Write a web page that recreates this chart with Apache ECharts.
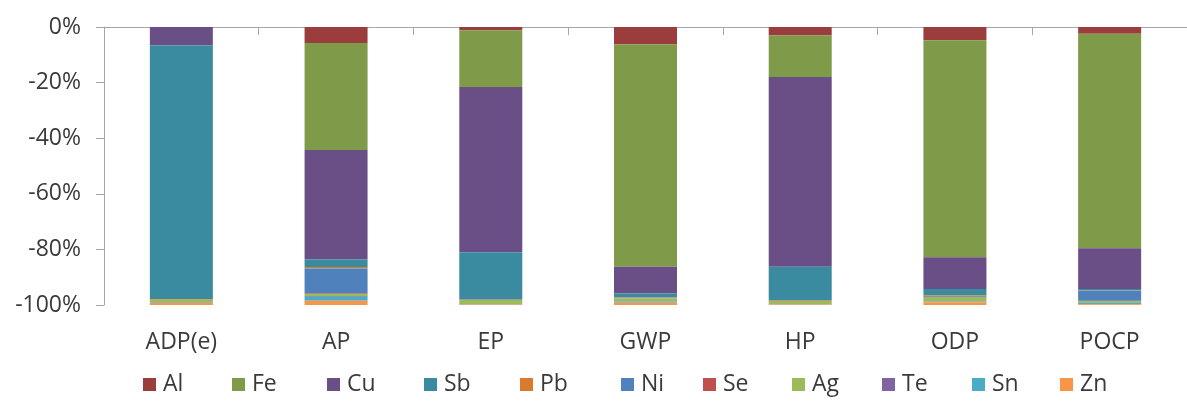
<!DOCTYPE html>
<html>
<head>
<meta charset="utf-8">
<script src="https://cdn.jsdelivr.net/npm/echarts@6/dist/echarts.min.js"></script>
<style>
html,body{margin:0;padding:0;background:#fff;}
#chart{width:1187px;height:405px;}
</style>
</head>
<body>
<div id="chart"></div>
<script>
var categories = ['ADP(e)', 'AP', 'EP', 'GWP', 'HP', 'ODP', 'POCP'];
var yTicks = [-100, -80, -60, -40, -20, 0];

var Al = [0, -5.8, -1.2, -6.2, -3.0, -4.8, -2.4];
var Fe = [0, -38.4, -20.4, -80.0, -15.0, -78.0, -77.2];
var Cu = [-6.6, -39.3, -59.4, -9.6, -68.2, -11.4, -14.6];
var Sb = [-91.2, -2.8, -16.8, -1.4, -12.0, -2.4, -0.6];
var Pb = [-0.3, -0.6, -0.1, -0.2, -0.2, -0.2, -0.1];
var Ni = [0, -9.0, -0.2, -0.2, -0.1, -0.2, -3.6];
var Se = [0, -0.1, -0.1, -0.1, -0.1, -0.1, -0.1];
var Ag = [-0.8, -0.8, -1.4, -1.0, -1.0, -1.6, -0.6];
var Te = [0, -0.2, -0.1, -0.1, -0.1, -0.1, -0.1];
var Sn = [-0.3, -1.5, -0.1, -0.4, -0.1, -0.2, -0.4];
var Zn = [-0.8, -1.5, -0.2, -0.8, -0.2, -1.0, -0.3];

var seriesNames = ['Al', 'Fe', 'Cu', 'Sb', 'Pb', 'Ni', 'Se', 'Ag', 'Te', 'Sn', 'Zn'];
var seriesData = [Al, Fe, Cu, Sb, Pb, Ni, Se, Ag, Te, Sn, Zn];
var colors = ['#9B3D3C', '#7F9A48', '#6A4F86', '#3B8BA0', '#D97B2E', '#4F81BD', '#C0504D', '#9BBB59', '#8064A2', '#4BACC6', '#F79646'];

// legend entry left edges (layout)
var legendLeft = [143, 232, 327, 424, 520, 621, 703, 792, 882, 972, 1060];

var FONT = 'Open Sans';
var TXT = '#3a3a3a';
var AX = '#A6A6A6';
var FS = 23;

var series = seriesNames.map(function (n, i) {
  return {
    name: n,
    type: 'bar',
    stack: 'total',
    xAxisIndex: 0,
    barWidth: 63,
    data: seriesData[i],
    itemStyle: { color: colors[i] },
    emphasis: { disabled: true }
  };
});

var legends = seriesNames.map(function (n, i) {
  return {
    data: [n],
    left: legendLeft[i],
    top: 373,
    icon: 'rect',
    itemWidth: 13,
    itemHeight: 13,
    padding: 0,
    textStyle: { color: TXT, fontFamily: FONT, fontSize: FS, padding: [0, 0, 0, 2] },
    selectedMode: false
  };
});

var chart = echarts.init(document.getElementById('chart'), null, { renderer: 'canvas' });
chart.setOption({
  animation: false,
  color: colors,
  textStyle: { fontFamily: FONT },
  grid: { left: 104, top: 27, width: 1092, height: 278, containLabel: false },
  xAxis: [
    {
      type: 'category',
      data: categories,
      position: 'top',
      boundaryGap: true,
      axisLine: { show: true, onZero: false, lineStyle: { color: AX, width: 1 } },
      axisTick: { show: true, inside: true, length: 8, lineStyle: { color: AX } },
      axisLabel: { show: false },
      splitLine: { show: false }
    },
    {
      type: 'category',
      data: categories,
      position: 'bottom',
      boundaryGap: true,
      axisLine: { show: false },
      axisTick: { show: false },
      axisLabel: { show: true, color: TXT, fontFamily: FONT, fontSize: FS, margin: 26 },
      splitLine: { show: false }
    }
  ],
  yAxis: {
    type: 'value',
    min: -100,
    max: 0,
    interval: 20,
    axisLine: { show: true, lineStyle: { color: AX, width: 1 } },
    axisTick: { show: true, length: 8, lineStyle: { color: AX } },
    axisLabel: { color: TXT, fontFamily: FONT, fontSize: FS, margin: 23, formatter: function (v) { return v + '%'; } },
    splitLine: { show: false }
  },
  legend: legends,
  series: series
});
</script>
</body>
</html>
